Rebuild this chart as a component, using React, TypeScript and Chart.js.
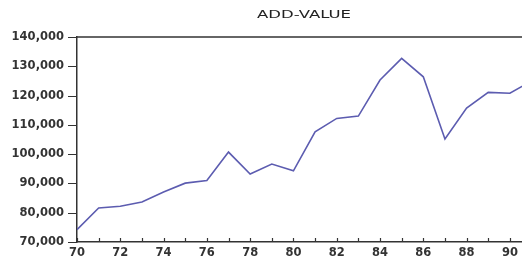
import React, { useEffect, useRef } from "react";
import { Chart, registerables } from "chart.js";

Chart.register(...registerables);

const years = [70, 71, 72, 73, 74, 75, 76, 77, 78, 79, 80, 81, 82, 83, 84, 85, 86, 87, 88, 89, 90, 91];
const addValue = [74200, 81600, 82200, 83650, 87100, 90100, 91000, 100700, 93200, 96600, 94300, 107600, 112200, 113000, 125300, 132700, 126400, 105200, 115700, 121100, 120800, 125000];
const yTicks = [70000, 80000, 90000, 100000, 110000, 120000, 130000, 140000];
const titleText = "ADD-VALUE";

const framePlugin = {
  id: "frame",
  afterDraw(chart: any) {
    const { ctx, chartArea } = chart;
    const x = chart.scales.x;
    const y = chart.scales.y;
    ctx.save();
    ctx.strokeStyle = "#333";
    ctx.lineWidth = 1.5;
    ctx.beginPath();
    ctx.moveTo(chartArea.left, chartArea.top);
    ctx.lineTo(chartArea.right + 2, chartArea.top);
    ctx.stroke();
    ctx.lineWidth = 1.2;
    ctx.beginPath();
    for (let yr = 70; yr <= 90; yr++) {
      const px = Math.round(x.getPixelForValue(yr)) + 0.5;
      ctx.moveTo(px, chartArea.bottom);
      ctx.lineTo(px, chartArea.bottom - 4);
    }
    for (const v of yTicks) {
      const py = Math.round(y.getPixelForValue(v)) + 0.5;
      ctx.moveTo(chartArea.left, py);
      ctx.lineTo(chartArea.left - 9, py);
    }
    ctx.stroke();
    ctx.fillStyle = "#222";
    ctx.font = "11px 'DejaVu Sans'";
    ctx.textAlign = "center";
    ctx.textBaseline = "middle";
    ctx.translate(304, 15);
    ctx.scale(1.5, 1);
    ctx.fillText(titleText, 0, 0);
    ctx.restore();
  },
};

export default function App() {
  const ref = useRef<HTMLCanvasElement>(null);
  useEffect(() => {
    const chart = new Chart(ref.current!, {
      type: "line",
      data: {
        datasets: [
          {
            data: years.map((y, i) => ({ x: y, y: addValue[i] })),
            borderColor: "#5c5cb0",
            borderWidth: 1.6,
            pointRadius: 0,
            tension: 0,
            fill: false,
          },
        ],
      },
      options: {
        animation: false,
        responsive: false,
        layout: { padding: { top: 37, right: 0, left: 0, bottom: 0 } },
        plugins: { legend: { display: false }, title: { display: false }, tooltip: { enabled: false } },
        scales: {
          x: {
            type: "linear",
            min: 70,
            max: 90.56,
            afterFit(s: any) {
              s.height = 16;
              s.paddingLeft = 0;
              s.paddingRight = 0;
            },
            afterBuildTicks(s: any) {
              s.ticks = years.filter((y) => y % 2 === 0 && y <= 90).map((v) => ({ value: v }));
            },
            ticks: {
              autoSkip: false,
              maxRotation: 0,
              padding: 4,
              color: "#333",
              font: { family: "'DejaVu Sans'", size: 11.5, weight: "bold" },
              callback: (v: any) => String(v),
            },
            grid: { display: false, drawTicks: false },
            border: { display: true, color: "#333", width: 1.5 },
          },
          y: {
            min: 70000,
            max: 140000,
            afterFit(s: any) {
              s.width = 77;
              s.paddingTop = 0;
              s.paddingBottom = 0;
            },
            afterBuildTicks(s: any) {
              s.ticks = yTicks.map((v) => ({ value: v }));
            },
            ticks: {
              padding: 13,
              color: "#333",
              font: { family: "'DejaVu Sans'", size: 11.5, weight: "bold" },
              callback: (v: any) => Number(v).toLocaleString("en-US"),
            },
            grid: { display: false, drawOnChartArea: false, drawTicks: false },
            border: { display: true, color: "#333", width: 1.5 },
          },
        },
      },
      plugins: [framePlugin],
    });
    return () => chart.destroy();
  }, []);
  return (
    <div style={{ position: "fixed", left: 0, top: 0, width: 522, height: 258, overflow: "hidden", background: "#fff" }}>
      <canvas ref={ref} width={522} height={258} style={{ display: "block" }} />
    </div>
  );
}
